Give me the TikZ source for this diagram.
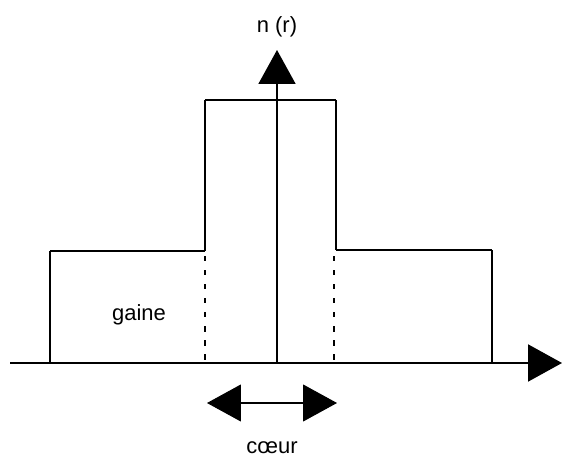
\documentclass[tikz,border=0pt]{standalone}
\usepackage{fontspec}
\setmainfont{Liberation Sans}
\usetikzlibrary{positioning,arrows.meta}

\begin{document}
\begin{tikzpicture}[x=0.02cm,y=-0.02cm,
  bigtip/.style={-{Triangle[length=0.68cm,width=0.74cm]}},
  bothtips/.style={{Triangle[length=0.68cm,width=0.74cm]}-{Triangle[length=0.68cm,width=0.74cm]}},
  label/.style={font=\fontsize{12.5}{15}\selectfont,inner sep=0}]
\useasboundingbox (0,0) rectangle (588,459);
% axes
\coordinate (o) at (277,363);
\coordinate (xs) at (10,363);
\coordinate (xe) at (562,363);
\coordinate (ye) at (277,50);
\draw[line width=1.2,bigtip](xs) -- (xe);
\draw[line width=1,bigtip](o) -- (ye);
\node[label] (nr) at (277,27) {n (r)};
% profil
\draw[line width=1](50,363) -- (50,251);
\draw[line width=1](50,251) -- (205,251);
\draw[line width=1](205,251) -- (205,100);
\draw[line width=1](205,100) -- (336,100);
\draw[line width=1](336,100) -- (336,250);
\draw[line width=1](336,250) -- (492,250);
\draw[line width=1](492,250) -- (492,363);
\draw[line width=0.8,dash pattern=on 3pt off 5pt](205,256) -- (205,363);
\draw[line width=0.8,dash pattern=on 3pt off 5pt](334,256) -- (334,363);
\node[label] (gaine) at (139,315) {gaine};
% coeur
\coordinate (cl) at (207,403);
\coordinate (cr) at (337,403);
\draw[line width=0.6,bothtips](cl) -- (cr);
\node[label] (coeur) at (272,448) {cœur};
\end{tikzpicture}
\end{document}
